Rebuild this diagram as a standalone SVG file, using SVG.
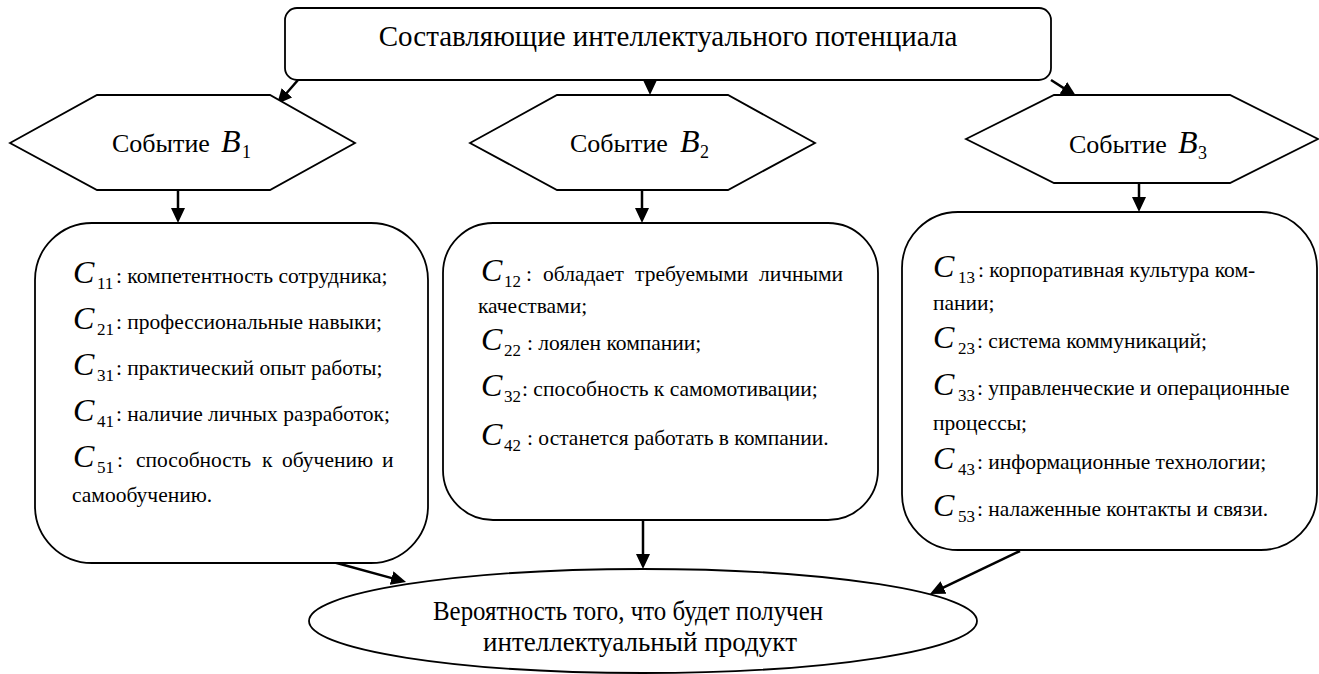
<svg xmlns="http://www.w3.org/2000/svg" width="1319" height="674" viewBox="0 0 1319 674">
<defs>
<style>
.shape{fill:#fff;stroke:#000;stroke-width:1.8}
.conn{stroke:#000;stroke-width:2.5;fill:none;marker-end:url(#arr)}
.t,.ci,.sub,.title,.ev,.bi,.bs,.el{font-family:'Liberation Serif',serif;fill:#000}
.t{font-size:21.5px}
.ci{font-size:32px;font-style:italic}
.sub{font-size:17px}
.title{font-size:29px}
.ev{font-size:26px}
.bi{font-size:32px;font-style:italic}
.bs{font-size:18px}
.el{font-size:28px}
</style>
<marker id="arr" viewBox="0 0 15 14" markerWidth="15" markerHeight="14" markerUnits="userSpaceOnUse" refX="5" refY="7" orient="auto">
<path d="M0,0 L15,7 L0,14 z" fill="#000"/>
</marker>
</defs>
<rect width="1319" height="674" fill="#fff"/>

<g id="connectors">
<line class="conn" x1="298" y1="80" x2="283.6" y2="96.5"/>
<line class="conn" x1="650" y1="80" x2="650" y2="85"/>
<line class="conn" x1="1051" y1="80" x2="1067.6" y2="90.6"/>
<line class="conn" x1="178" y1="190" x2="178" y2="213"/>
<line class="conn" x1="642" y1="190" x2="642" y2="213"/>
<line class="conn" x1="1139" y1="183" x2="1139" y2="202"/>
<line class="conn" x1="333" y1="562" x2="396.4" y2="579.4"/>
<line class="conn" x1="643" y1="520" x2="643" y2="559"/>
<line class="conn" x1="1020" y1="551" x2="939" y2="589.7"/>
</g>

<g id="top">
<rect class="shape" x="285" y="8" width="766" height="72" rx="12"/>
<text class="title" x="668" y="46" text-anchor="middle">Составляющие интеллектуального потенциала</text>
</g>

<g id="event1">
<polygon class="shape" points="10,143 97,95 270,95 355,143 270,190 97,190"/>
<text class="ev" y="152"><tspan x="112">Событие</tspan><tspan class="bi" x="221">B</tspan><tspan class="bs" x="242" y="158">1</tspan></text>
</g>

<g id="event2">
<polygon class="shape" points="470,143 557,95 728,95 815,143 728,190 557,190"/>
<text class="ev" y="152"><tspan x="570">Событие</tspan><tspan class="bi" x="680">B</tspan><tspan class="bs" x="700" y="158">2</tspan></text>
</g>

<g id="event3">
<polygon class="shape" points="966,139 1054,95 1230,95 1318,139 1230,183 1054,183"/>
<text class="ev" y="153"><tspan x="1069">Событие</tspan><tspan class="bi" x="1178">B</tspan><tspan class="bs" x="1198" y="159">3</tspan></text>
</g>

<g id="box1">
<rect class="shape" x="35" y="223" width="393" height="340" rx="57"/>
<text class="t" y="283"><tspan class="ci" x="73">C</tspan><tspan class="sub" x="97" y="289">11</tspan><tspan x="116" y="283">: компетентность сотрудника;</tspan></text>
<text class="t" y="329"><tspan class="ci" x="73">C</tspan><tspan class="sub" x="97" y="335">21</tspan><tspan x="116" y="329">: профессиональные навыки;</tspan></text>
<text class="t" y="375"><tspan class="ci" x="73">C</tspan><tspan class="sub" x="97" y="381">31</tspan><tspan x="116" y="375">: практический опыт работы;</tspan></text>
<text class="t" y="421"><tspan class="ci" x="73">C</tspan><tspan class="sub" x="97" y="427">41</tspan><tspan x="116" y="421">: наличие личных разработок;</tspan></text>
<text class="t" y="467"><tspan class="ci" x="73">C</tspan><tspan class="sub" x="97" y="473">51</tspan><tspan x="117" y="467">:</tspan><tspan x="136" y="467">способность</tspan><tspan x="262" y="467">к</tspan><tspan x="282" y="467">обучению</tspan><tspan x="382" y="467">и</tspan></text>
<text class="t" x="72" y="502">самообучению.</text>
</g>

<g id="box2">
<rect class="shape" x="443" y="223" width="435" height="297" rx="50"/>
<text class="t" y="281"><tspan class="ci" x="481">C</tspan><tspan class="sub" x="504" y="287">12</tspan><tspan x="526" y="281">:</tspan><tspan x="543" y="281">обладает</tspan><tspan x="635" y="281">требуемыми</tspan><tspan x="759" y="281">личными</tspan></text>
<text class="t" x="478" y="313">качествами;</text>
<text class="t" y="350"><tspan class="ci" x="481">C</tspan><tspan class="sub" x="504" y="356">22</tspan><tspan x="527" y="350">: лоялен компании;</tspan></text>
<text class="t" y="396"><tspan class="ci" x="481">C</tspan><tspan class="sub" x="504" y="402">32</tspan><tspan x="522" y="396">: способность к самомотивации;</tspan></text>
<text class="t" y="445"><tspan class="ci" x="481">C</tspan><tspan class="sub" x="504" y="451">42</tspan><tspan x="527" y="445">: останется работать в компании.</tspan></text>
</g>

<g id="box3">
<rect class="shape" x="902" y="212" width="415" height="338" rx="56"/>
<text class="t" y="277"><tspan class="ci" x="933">C</tspan><tspan class="sub" x="958" y="283">13</tspan><tspan x="978" y="277">: корпоративная культура ком-</tspan></text>
<text class="t" x="933" y="310">пании;</text>
<text class="t" y="348"><tspan class="ci" x="933">C</tspan><tspan class="sub" x="958" y="354">23</tspan><tspan x="977" y="348">: система коммуникаций;</tspan></text>
<text class="t" y="395"><tspan class="ci" x="933">C</tspan><tspan class="sub" x="958" y="401">33</tspan><tspan x="977" y="395">: управленческие и операционные</tspan></text>
<text class="t" x="933" y="430">процессы;</text>
<text class="t" y="469"><tspan class="ci" x="933">C</tspan><tspan class="sub" x="958" y="475">43</tspan><tspan x="977" y="469">: информационные технологии;</tspan></text>
<text class="t" y="516"><tspan class="ci" x="933">C</tspan><tspan class="sub" x="958" y="522">53</tspan><tspan x="977" y="516">: налаженные контакты и связи.</tspan></text>
</g>

<g id="result">
<ellipse class="shape" cx="643" cy="621" rx="334" ry="52"/>
<text class="el" x="433" y="620" textLength="390" lengthAdjust="spacingAndGlyphs">Вероятность того, что будет получен</text>
<text class="el" x="483" y="651" textLength="314" lengthAdjust="spacingAndGlyphs">интеллектуальный продукт</text>
</g>
</svg>
